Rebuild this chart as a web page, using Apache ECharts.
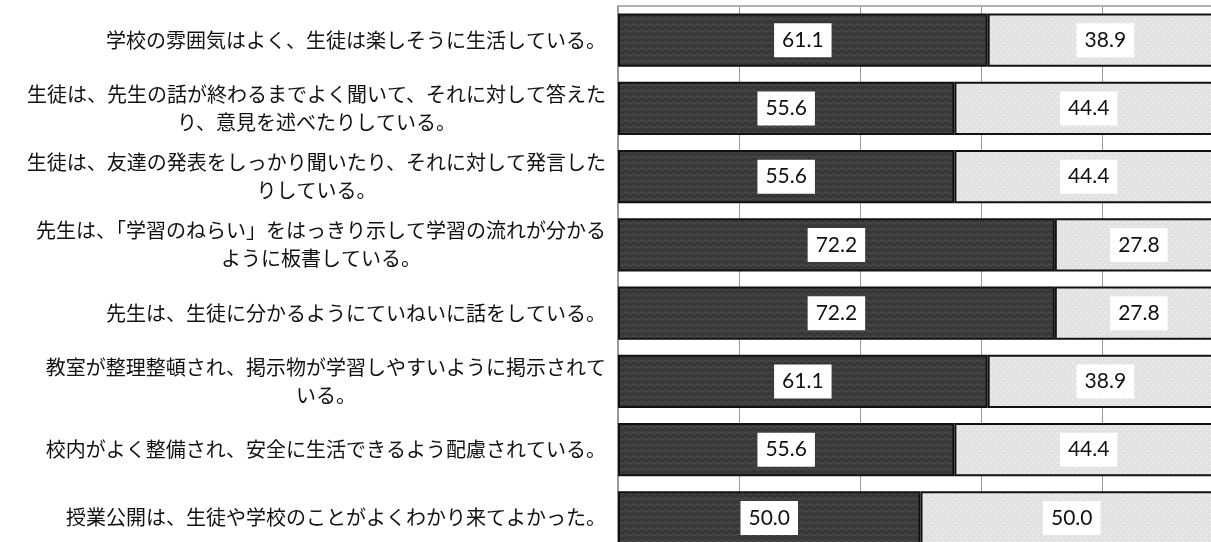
<!DOCTYPE html>
<html>
<head>
<meta charset="utf-8">
<script src="https://cdn.jsdelivr.net/npm/echarts/dist/echarts.min.js"></script>
<style>
html,body{margin:0;padding:0;background:#fff;overflow:hidden;}
#wrap{width:1211px;height:542px;overflow:hidden;position:relative;}
#chart{width:1240px;height:570px;position:absolute;left:0;top:0;}
</style>
</head>
<body>
<div id="wrap"><div id="chart"></div></div>
<script>
const categories = [
  '学校の雰囲気はよく、生徒は楽しそうに生活している。',
  '生徒は、先生の話が終わるまでよく聞いて、それに対して答えた\nり、意見を述べたりしている。',
  '生徒は、友達の発表をしっかり聞いたり、それに対して発言した\nりしている。',
  '先生は、「学習のねらい」をはっきり示して学習の流れが分かる\nように板書している。',
  '先生は、生徒に分かるようにていねいに話をしている。',
  '教室が整理整頓され、掲示物が学習しやすいように掲示されて\nいる。',
  '校内がよく整備され、安全に生活できるよう配慮されている。',
  '授業公開は、生徒や学校のことがよくわかり来てよかった。'
];
const valuesDark = [61.1, 55.6, 55.6, 72.2, 72.2, 61.1, 55.6, 50.0];
const valuesLight = [38.9, 44.4, 44.4, 27.8, 27.8, 38.9, 44.4, 50.0];
const axisTicks = [0, 20, 40, 60, 80, 100];

function makePattern(kind) {
  const c = document.createElement('canvas');
  if (kind === 'dark') {
    c.width = 8; c.height = 6;
    const g = c.getContext('2d');
    g.fillStyle = '#3b3b3b'; g.fillRect(0, 0, 8, 6);
    g.fillStyle = '#4a4a4a';
    g.fillRect(0, 0, 4, 1); g.fillRect(4, 1, 4, 1);
    g.fillStyle = '#333333';
    g.fillRect(0, 3, 4, 1); g.fillRect(4, 4, 4, 1);
  } else {
    c.width = 6; c.height = 6;
    const g = c.getContext('2d');
    g.fillStyle = '#e3e3e3'; g.fillRect(0, 0, 6, 6);
    g.fillStyle = '#f0f0f0';
    g.fillRect(1, 0, 1, 2); g.fillRect(4, 3, 1, 2);
    g.fillStyle = '#d9d9d9';
    g.fillRect(2, 2, 1, 1); g.fillRect(5, 5, 1, 1);
  }
  return { image: c, repeat: 'repeat' };
}

const chart = echarts.init(document.getElementById('chart'), null, { renderer: 'canvas' });
const cjk = '"Noto Sans CJK JP", "Noto Sans", sans-serif';
const labelStyle = {
  show: true,
  position: 'inside',
  formatter: p => p.value.toFixed(1),
  backgroundColor: '#ffffff',
  color: '#111',
  fontFamily: 'Lato, "Open Sans", sans-serif',
  fontSize: 21,
  padding: [7, 8, 6, 8]
};
chart.setOption({
  animation: false,
  grid: { left: 618, top: 6, width: 605, height: 546, containLabel: false },
  xAxis: {
    type: 'value', position: 'top', min: axisTicks[0], max: axisTicks[axisTicks.length - 1], interval: 20,
    axisLine: { show: true, lineStyle: { color: '#b0b0b0', width: 2 } },
    axisTick: { show: false },
    axisLabel: { show: false },
    splitLine: { show: true, lineStyle: { color: '#999', width: 1 } }
  },
  yAxis: {
    type: 'category', inverse: true, data: categories,
    axisLine: { show: true, lineStyle: { color: '#999', width: 2 } },
    axisTick: { show: false },
    axisLabel: {
      interval: 0, margin: 12, align: 'right',
      formatter: v => v.split('\n').map(l => '{c|' + l + '}').join('\n'),
      rich: { c: { align: 'center', fontSize: 20, lineHeight: 28, color: '#111', fontFamily: cjk } }
    }
  },
  series: [
    {
      type: 'bar', stack: 'a', data: valuesDark, barCategoryGap: '22%',
      itemStyle: { color: makePattern('dark'), borderColor: '#111', borderWidth: 2 },
      label: labelStyle
    },
    {
      type: 'bar', stack: 'a', data: valuesLight, barCategoryGap: '22%',
      itemStyle: { color: makePattern('light'), borderColor: '#111', borderWidth: 2 },
      label: labelStyle
    }
  ]
});
</script>
</body>
</html>
